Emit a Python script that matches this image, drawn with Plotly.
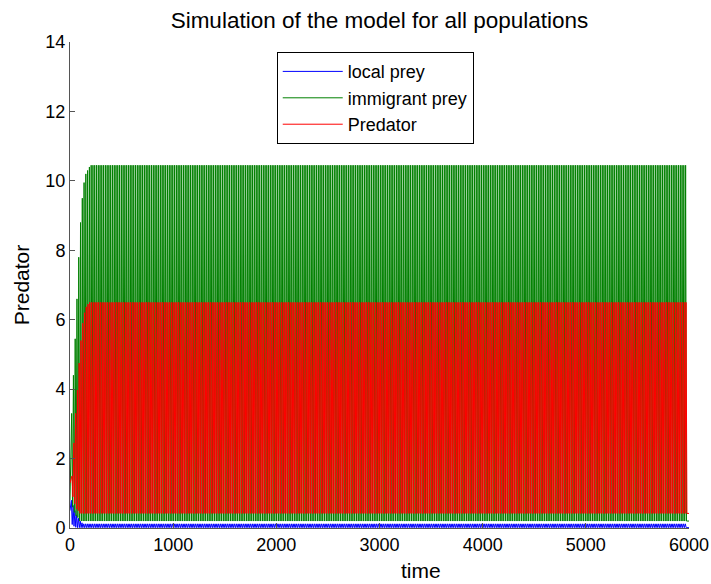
import numpy as np
import plotly.graph_objects as go

# ---------------- data ----------------
period = 17.2          # time between successive spikes
t_end = 6000
first_peak = 16.0

# local prey (blue)
blue_start = 0.5
blue_peaks_transient = [0.8, 0.65, 0.5, 0.38, 0.28, 0.2, 0.15]
blue_peak_steady = 0.12
blue_troughs_transient = [0.1, 0.05, 0.02]
blue_trough_steady = 0.01

# immigrant prey (green)
green_start = 0.8
green_peaks_transient = [3.3, 4.4, 5.45, 6.6, 7.8, 8.8, 9.5, 9.95, 10.2, 10.3, 10.4]
green_peak_steady = 10.45
green_troughs_transient = [0.6, 0.45, 0.35, 0.3]
green_trough_steady = 0.2

# predator (red)
red_start = 1.3
red_peaks_transient = [1.5, 2.45, 3.3, 3.97, 4.75, 5.4, 5.9, 6.2, 6.37, 6.45]
red_peak_steady = 6.5
red_troughs_transient = [0.9, 0.7, 0.55, 0.5]
red_trough_steady = 0.42

x_ticks = [0, 1000, 2000, 3000, 4000, 5000, 6000]
y_ticks = [0, 2, 4, 6, 8, 10, 12, 14]
# -------------------------------------------------------------

n_cycles = int((t_end - first_peak - period) / period) + 1


def series(start, peaks_tr, peak_ss, troughs_tr, trough_ss, offset):
    peaks = list(peaks_tr) + [peak_ss] * (n_cycles - len(peaks_tr))
    troughs = list(troughs_tr) + [trough_ss] * (n_cycles - len(troughs_tr))
    xs, ys = [0.0], [start]
    for k in range(n_cycles):
        tp = first_peak + offset + k * period
        xs += [tp, tp + period * 0.5]
        ys += [peaks[k], troughs[k]]
    xs.append(t_end)
    ys.append(ys[-1])
    return xs, ys


bx, by = series(blue_start, blue_peaks_transient, blue_peak_steady,
                blue_troughs_transient, blue_trough_steady, -3.0)
gx, gy = series(green_start, green_peaks_transient, green_peak_steady,
                green_troughs_transient, green_trough_steady, 0.0)
rx, ry = series(red_start, red_peaks_transient, red_peak_steady,
                red_troughs_transient, red_trough_steady, 4.0)

font = "Liberation Sans, Arial, Helvetica, sans-serif"

fig = go.Figure()
fig.add_trace(go.Scatter(x=bx, y=by, mode="lines", name="local prey",
                         line=dict(color="#0000ff", width=1)))
fig.add_trace(go.Scatter(x=gx, y=gy, mode="lines", name="immigrant prey",
                         line=dict(color="#008000", width=1)))
fig.add_trace(go.Scatter(x=rx, y=ry, mode="lines", name="Predator",
                         line=dict(color="#ff0000", width=1)))

axis_common = dict(showline=True, linecolor="#555555", linewidth=1,
                   ticks="inside", ticklen=5, tickcolor="#555555",
                   showgrid=False, zeroline=False, mirror=False,
                   automargin=False,
                   tickfont=dict(size=18, color="black", family=font))

fig.update_layout(
    width=711, height=584,
    margin=dict(l=70, r=22, t=42, b=56),
    paper_bgcolor="white", plot_bgcolor="white",
    font=dict(family=font, color="black"),
    title=dict(text="Simulation of the model for all populations",
               x=0.5, xref="paper", xanchor="center",
               y=1 - 20 / 584, yref="container", yanchor="middle",
               font=dict(size=22.5, color="black", family=font)),
    xaxis=dict(range=[0, 6000], tickvals=x_ticks, **axis_common),
    yaxis=dict(range=[0, 14], tickvals=y_ticks,
               title=dict(text="Predator", font=dict(size=21), standoff=10),
               **axis_common),
    legend=dict(x=0.334, y=0.979, xanchor="left", yanchor="top",
                bgcolor="white", bordercolor="black", borderwidth=1,
                font=dict(size=18, color="black", family=font),
                itemwidth=60, tracegroupgap=0),
    showlegend=True,
    annotations=[dict(text="time", xref="paper", yref="paper",
                      x=(421 - 70) / 619, y=-42 / 485, xanchor="center",
                      yanchor="middle", showarrow=False,
                      font=dict(size=21, color="black", family=font))],
)

fig.write_html("out.html")
